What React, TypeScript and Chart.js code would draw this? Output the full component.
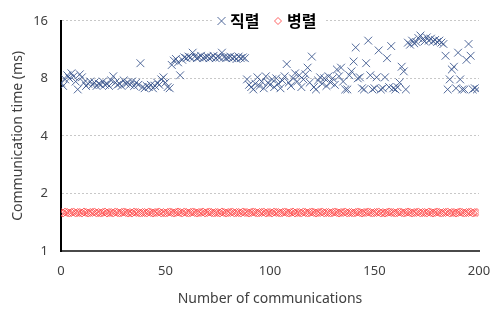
import React, { useEffect, useRef } from "react";
import { Chart, registerables } from "chart.js";

Chart.register(...registerables);

// Series names (legend)
const seriesNames = ["직렬", "병렬"];

// X axis tick labels / range
const xTicks = [0, 50, 100, 150, 200];
// Y axis (log2) tick labels
const yTicks = [1, 2, 4, 8, 16];

// Serial communication time (ms), one value per communication index 0..199
const serial = [
  7.6, 7.3, 7.9, 8.3, 8.0, 8.5, 8.2, 7.7, 7.0, 8.4,
  8.1, 7.6, 7.3, 7.5, 7.7, 7.4, 7.6, 7.3, 7.5, 7.4,
  7.7, 7.4, 7.5, 7.3, 7.8, 8.2, 7.6, 7.4, 7.5, 7.3,
  7.8, 7.5, 7.6, 7.4, 7.7, 7.3, 7.6, 7.4, 9.6, 7.2,
  7.1, 7.3, 7.2, 7.4, 7.1, 7.3, 7.6, 7.4, 7.9, 8.1,
  7.6, 7.2, 7.1, 9.4, 9.9, 10.1, 9.7, 8.3, 10.0, 10.3,
  10.2, 10.4, 10.3, 10.9, 10.4, 10.2, 10.3, 10.5, 10.2, 10.3,
  10.4, 10.2, 10.3, 10.5, 10.2, 10.4, 10.3, 10.9, 10.3, 10.2,
  10.3, 10.4, 10.2, 10.3, 10.1, 10.4, 10.2, 10.3, 10.2, 7.9,
  7.4, 7.2, 7.0, 7.5, 8.1, 7.3, 7.7, 7.1, 8.2, 7.6,
  7.4, 7.9, 7.2, 8.0, 7.5, 7.1, 7.8, 8.2, 9.5, 7.6,
  7.3, 8.0, 8.5, 7.7, 8.3, 7.2, 7.9, 8.4, 9.1, 7.6,
  10.4, 7.2, 7.0, 7.8, 8.1, 7.5, 8.0, 7.3, 8.2, 7.6,
  8.0, 7.4, 8.9, 8.2, 9.1, 7.7, 7.0, 7.0, 8.3, 8.7,
  9.8, 11.6, 8.0, 8.1, 7.1, 7.0, 9.6, 12.6, 8.3, 7.0,
  7.1, 8.1, 11.2, 7.0, 7.1, 8.1, 10.2, 7.2, 11.8, 7.1,
  7.0, 7.2, 7.6, 9.2, 8.7, 7.0, 12.3, 12.0, 12.6, 12.2,
  12.4, 13.0, 13.4, 12.8, 12.5, 13.1, 12.6, 12.9, 12.5, 12.7,
  12.4, 12.6, 12.3, 12.1, 10.5, 7.0, 7.9, 8.9, 9.2, 7.1,
  10.9, 7.9, 7.0, 7.0, 10.0, 12.1, 10.5, 7.0, 7.1, 7.0,
];

// Parallel communication time (ms), one value per communication index 0..199
const parallel = [
  1.59, 1.58, 1.60, 1.59, 1.58, 1.59, 1.60, 1.58, 1.59, 1.59,
  1.58, 1.60, 1.59, 1.58, 1.59, 1.59, 1.60, 1.58, 1.59, 1.58,
  1.59, 1.60, 1.58, 1.59, 1.59, 1.58, 1.60, 1.59, 1.58, 1.59,
  1.60, 1.59, 1.58, 1.59, 1.58, 1.60, 1.59, 1.59, 1.58, 1.59,
  1.59, 1.58, 1.60, 1.59, 1.58, 1.59, 1.59, 1.60, 1.58, 1.59,
  1.58, 1.59, 1.60, 1.59, 1.58, 1.59, 1.60, 1.59, 1.58, 1.60,
  1.59, 1.58, 1.59, 1.60, 1.59, 1.58, 1.59, 1.59, 1.60, 1.58,
  1.59, 1.60, 1.59, 1.58, 1.59, 1.59, 1.58, 1.60, 1.59, 1.58,
  1.59, 1.59, 1.60, 1.58, 1.59, 1.59, 1.58, 1.60, 1.59, 1.59,
  1.58, 1.59, 1.60, 1.59, 1.58, 1.59, 1.59, 1.60, 1.58, 1.59,
  1.59, 1.58, 1.60, 1.59, 1.59, 1.58, 1.59, 1.60, 1.59, 1.58,
  1.59, 1.60, 1.58, 1.59, 1.59, 1.58, 1.60, 1.59, 1.58, 1.59,
  1.60, 1.59, 1.58, 1.59, 1.59, 1.60, 1.58, 1.59, 1.59, 1.58,
  1.59, 1.60, 1.59, 1.58, 1.59, 1.59, 1.60, 1.58, 1.59, 1.59,
  1.58, 1.59, 1.60, 1.59, 1.58, 1.59, 1.59, 1.60, 1.59, 1.58,
  1.59, 1.59, 1.60, 1.58, 1.59, 1.58, 1.59, 1.60, 1.59, 1.59,
  1.58, 1.59, 1.60, 1.59, 1.58, 1.59, 1.60, 1.59, 1.58, 1.59,
  1.59, 1.60, 1.58, 1.59, 1.59, 1.58, 1.60, 1.59, 1.58, 1.59,
  1.60, 1.59, 1.58, 1.59, 1.59, 1.60, 1.58, 1.59, 1.59, 1.58,
  1.59, 1.60, 1.59, 1.58, 1.59, 1.59, 1.60, 1.58, 1.59, 1.59,
];

const SERIAL_COLOR = "rgba(52, 80, 138, 0.85)";
const PARALLEL_COLOR = "rgba(255, 70, 70, 0.85)";
const TEXT_COLOR = "#404040";
const FONT_FAMILY = '"Noto Sans", "Noto Sans CJK KR", sans-serif';

const legendPlugin = {
  id: "customLegend",
  afterDraw(chart: any) {
    const ctx = chart.ctx as CanvasRenderingContext2D;
    const cy = 21;
    ctx.save();
    ctx.fillStyle = "#ffffff";
    ctx.fillRect(212, 11, 112, 20);
    // serial marker (x)
    ctx.strokeStyle = SERIAL_COLOR;
    ctx.lineWidth = 1;
    ctx.beginPath();
    ctx.moveTo(221.5 - 4, cy - 4);
    ctx.lineTo(221.5 + 4, cy + 4);
    ctx.moveTo(221.5 + 4, cy - 4);
    ctx.lineTo(221.5 - 4, cy + 4);
    ctx.stroke();
    // parallel marker (diamond)
    ctx.strokeStyle = PARALLEL_COLOR;
    ctx.beginPath();
    ctx.moveTo(278, cy - 3.5);
    ctx.lineTo(281.5, cy);
    ctx.lineTo(278, cy + 3.5);
    ctx.lineTo(274.5, cy);
    ctx.closePath();
    ctx.stroke();
    ctx.fillStyle = "#000000";
    ctx.font = 'bold 16px "Noto Sans CJK KR", sans-serif';
    ctx.textBaseline = "middle";
    ctx.textAlign = "left";
    ctx.fillText(seriesNames[0], 230, cy);
    ctx.fillText(seriesNames[1], 287, cy);
    ctx.restore();
  },
};

export default function App() {
  const canvasRef = useRef<HTMLCanvasElement | null>(null);

  useEffect(() => {
    const canvas = canvasRef.current;
    if (!canvas) return;
    const chart = new Chart(canvas, {
      type: "scatter",
      data: {
        datasets: [
          {
            label: seriesNames[0],
            data: serial.map((v, i) => ({ x: i, y: v })),
            pointStyle: "crossRot",
            pointRadius: 5.5,
            pointBorderWidth: 1,
            borderColor: SERIAL_COLOR,
            backgroundColor: SERIAL_COLOR,
          },
          {
            label: seriesNames[1],
            data: parallel.map((v, i) => ({ x: i, y: v })),
            pointStyle: "rectRot",
            pointRadius: 4,
            pointBorderWidth: 1,
            borderColor: PARALLEL_COLOR,
            backgroundColor: "rgba(255,255,255,0)",
          },
        ],
      },
      options: {
        animation: false,
        responsive: false,
        devicePixelRatio: 1,
        layout: { padding: { top: 15, right: 25, left: 0, bottom: 0 } },
        plugins: {
          legend: { display: false },
          tooltip: { enabled: false },
        },
        scales: {
          x: {
            type: "linear",
            min: xTicks[0],
            max: xTicks[xTicks.length - 1],
            afterBuildTicks: (scale: any) => {
              scale.ticks = xTicks.map((v) => ({ value: v }));
            },
            afterFit: (scale: any) => {
              scale.height = 67;
            },
            grid: { display: false, drawTicks: false },
            border: { display: true, color: "#4a4a4a", width: 2 },
            ticks: {
              padding: 12,
              color: TEXT_COLOR,
              font: { family: FONT_FAMILY, size: 13 },
              maxRotation: 0,
            },
            title: {
              display: true,
              text: "Number of communications",
              color: TEXT_COLOR,
              font: { family: FONT_FAMILY, size: 14 },
              padding: { top: 0, bottom: 11 },
            },
          },
          y: {
            type: "logarithmic",
            min: yTicks[0],
            max: yTicks[yTicks.length - 1],
            afterBuildTicks: (scale: any) => {
              scale.ticks = yTicks.map((v) => ({ value: v }));
            },
            afterFit: (scale: any) => {
              scale.width = 61;
            },
            grid: {
              drawTicks: false,
              color: (c: any) =>
                c.tick && c.tick.value === yTicks[0] ? "rgba(0,0,0,0)" : "#c8c8c8",
              lineWidth: 1,
            },
            border: { display: true, color: "#000000", width: 2, dash: [2, 2] },
            ticks: {
              padding: 13,
              color: TEXT_COLOR,
              font: { family: FONT_FAMILY, size: 13 },
              callback: (v: any) => String(v),
            },
            title: {
              display: true,
              text: "Communication time (ms)",
              color: TEXT_COLOR,
              font: { family: FONT_FAMILY, size: 14 },
              padding: { top: 10, bottom: 0 },
            },
          },
        },
      },
      plugins: [legendPlugin],
    });
    return () => chart.destroy();
  }, []);

  return (
    <div style={{ position: "fixed", left: 0, top: 0, width: 504, height: 318, background: "#fff" }}>
      <canvas ref={canvasRef} width={504} height={318} style={{ display: "block" }} />
    </div>
  );
}
